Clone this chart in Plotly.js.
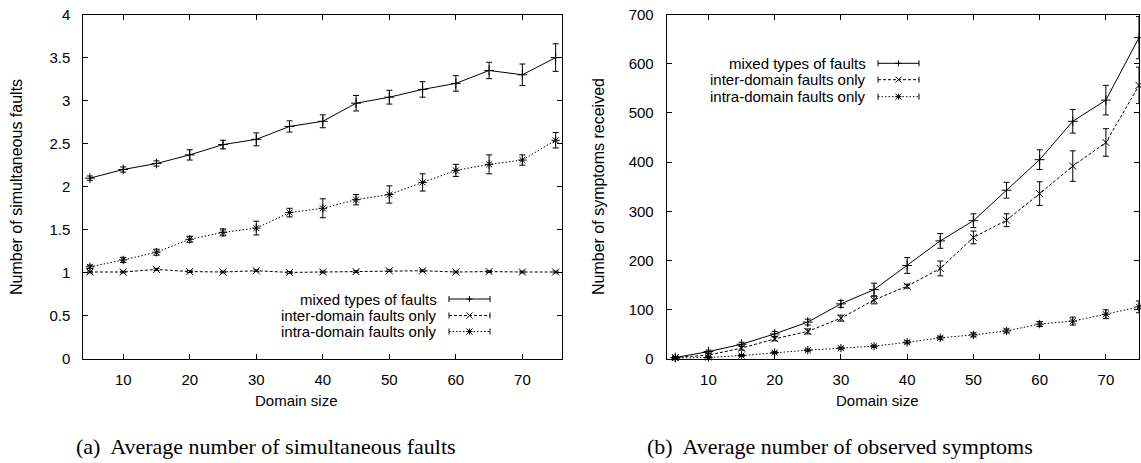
<!DOCTYPE html>
<html>
<head>
<meta charset="utf-8">
<script src="https://cdn.plot.ly/plotly-3.0.1.min.js"></script>
<style>html,body{margin:0;padding:0;background:#fff;}#chart{width:1141px;height:463px;}</style>
</head>
<body>
<div id="chart"></div>
<script>
// ---------- data ----------
const domainSize = [5,10,15,20,25,30,35,40,45,50,55,60,65,70,75];
const seriesNames = ["mixed types of faults","inter-domain faults only","intra-domain faults only"];

// (a) Average number of simultaneous faults
const faultsMixed    = [2.10,2.20,2.27,2.37,2.49,2.55,2.70,2.76,2.97,3.04,3.13,3.20,3.35,3.30,3.50];
const faultsMixedErr = [0.025,0.03,0.03,0.06,0.05,0.075,0.065,0.075,0.09,0.08,0.09,0.09,0.095,0.125,0.16];
const faultsInter    = [1.01,1.01,1.04,1.015,1.01,1.025,1.005,1.01,1.015,1.025,1.025,1.01,1.015,1.01,1.01];
const faultsInterErr = [0.01,0.01,0.012,0.01,0.01,0.01,0.01,0.01,0.01,0.01,0.01,0.01,0.01,0.01,0.01];
const faultsIntra    = [1.07,1.15,1.24,1.39,1.47,1.52,1.70,1.75,1.85,1.91,2.05,2.19,2.26,2.31,2.54];
const faultsIntraErr = [0.02,0.03,0.035,0.035,0.04,0.08,0.05,0.11,0.06,0.10,0.10,0.07,0.11,0.06,0.09];

// (b) Average number of observed symptoms
const sympMixed    = [3,15,30,51,75,112,141,190,240,281,343,405,483,526,653];
const sympMixedErr = [2,3,4,5,6,7,13,16,15,14,16,20,24,30,43];
const sympInter    = [3,8,22,41,56,83,120,148,184,247,282,336,392,440,556];
const sympInterErr = [2,3,4,4,5,6,8,4,15,13,13,24,31,28,37];
const sympIntra    = [2,3,7,13,18,22,26,34,43,49,57,71,77,91,106];
const sympIntraErr = [1,1,2,2,2,2,2,3,3,4,4,5,8,9,12];

const xTicksA = [10,20,30,40,50,60,70];
const yTicksA = [0,0.5,1,1.5,2,2.5,3,3.5,4];
const yTicksB = [0,100,200,300,400,500,600,700];

// ---------- layout helpers ----------
const W = 1141, H = 463;
const px = v => v / W;
const py = v => 1 - v / H;
const FONT = "Liberation Sans, Arial, Helvetica, sans-serif";
const dashes = ["solid","3px,2px","1.5px,2px"];
const symbols = ["cross-thin-open","x-thin-open","asterisk-open"];

function series(x, y, err, i, xa, ya) {
  return {
    type: "scatter", mode: "lines+markers", x: x, y: y,
    xaxis: xa, yaxis: ya, name: seriesNames[i], showlegend: false,
    line: {color: "#000", width: 1, dash: dashes[i]},
    marker: {symbol: symbols[i], size: 7, color: "#000", line: {color: "#000", width: 1}},
    error_y: {type: "data", array: err, visible: true, color: "#000", thickness: 1, width: 3},
    cliponaxis: false
  };
}

const traces = [
  series(domainSize, faultsMixed, faultsMixedErr, 0, "x", "y"),
  series(domainSize, faultsInter, faultsInterErr, 1, "x", "y"),
  series(domainSize, faultsIntra, faultsIntraErr, 2, "x", "y"),
  series(domainSize, sympMixed, sympMixedErr, 0, "x2", "y2"),
  series(domainSize, sympInter, sympInterErr, 1, "x2", "y2"),
  series(domainSize, sympIntra, sympIntraErr, 2, "x2", "y2")
];

function axisBase() {
  return {
    showgrid: false, zeroline: false, showline: true, linecolor: "#000", linewidth: 1,
    mirror: "ticks", ticks: "inside", ticklen: 5, tickcolor: "#000", tickwidth: 1,
    tickfont: {family: FONT, size: 15, color: "#000"}
  };
}

const yDom = [py(359), py(14.5)];
const layout = {
  width: W, height: H, margin: {l: 0, r: 0, t: 0, b: 0},
  paper_bgcolor: "#fff", plot_bgcolor: "#fff", showlegend: false,
  xaxis: Object.assign(axisBase(), {domain: [px(83.3), px(562.3)], range: [4, 76],
    tickvals: xTicksA, ticklabelstandoff: 7, anchor: "y"}),
  yaxis: Object.assign(axisBase(), {domain: yDom, range: [0, 4],
    tickvals: yTicksA, ticktext: yTicksA.map(String), ticklabelstandoff: 9, anchor: "x"}),
  xaxis2: Object.assign(axisBase(), {domain: [px(666.7), px(1139)], range: [3.7, 75],
    tickvals: xTicksA, ticklabelstandoff: 7, anchor: "y2"}),
  yaxis2: Object.assign(axisBase(), {domain: yDom, range: [0, 700],
    tickvals: yTicksB, ticklabelstandoff: 9, anchor: "x2"}),
  annotations: [],
  shapes: []
};

function textAnn(text, x, y, opts) {
  return Object.assign({text: text, xref: "paper", yref: "paper", x: px(x), y: py(y),
    showarrow: false, font: {family: FONT, size: 15, color: "#000"},
    xanchor: "center", yanchor: "middle"}, opts || {});
}
const TITLE16 = {family: FONT, size: 16, color: "#000"};

// axis titles
layout.annotations.push(textAnn("Domain size", 296, 400));
layout.annotations.push(textAnn("Domain size", 877, 400));
layout.annotations.push(textAnn("Number of simultaneous faults", 16, 187, {textangle: -90, font: TITLE16}));
layout.annotations.push(textAnn("Number of symptoms received", 598, 187, {textangle: -90, font: TITLE16}));
// captions
const CAP = {family: "Liberation Serif, Times New Roman, serif", size: 22, color: "#000"};
layout.annotations.push(textAnn("(a)&nbsp; Average number of simultaneous faults", 266, 446, {font: CAP}));
layout.annotations.push(textAnn("(b)&nbsp; Average number of observed symptoms", 840, 446, {font: CAP}));

// gnuplot-style keys: text then sample line with error-bar ends and marker
function seg(x0, y0, x1, y1, dash) {
  return {type: "line", xref: "paper", yref: "paper", x0: px(x0), y0: py(y0), x1: px(x1), y1: py(y1),
    line: {color: "#000", width: 1, dash: dash || "solid"}};
}
function key(textRight, lineX0, lineX1, rowsY) {
  const mx = (lineX0 + lineX1) / 2, s = 3;
  rowsY.forEach((y, i) => {
    layout.annotations.push(textAnn(seriesNames[i], textRight, y, {xanchor: "right"}));
    layout.shapes.push(seg(lineX0, y, lineX1, y, dashes[i]));
    layout.shapes.push(seg(lineX0, y - 3, lineX0, y + 3));
    layout.shapes.push(seg(lineX1, y - 3, lineX1, y + 3));
    if (i === 0 || i === 2) {
      layout.shapes.push(seg(mx - s, y, mx + s, y));
      layout.shapes.push(seg(mx, y - s, mx, y + s));
    }
    if (i === 1 || i === 2) {
      layout.shapes.push(seg(mx - s, y - s, mx + s, y + s));
      layout.shapes.push(seg(mx - s, y + s, mx + s, y - s));
    }
  });
}
key(439, 449, 490, [299, 315.5, 331.5]);
key(868, 878, 919, [63.3, 79.7, 96.7]);

Plotly.newPlot("chart", traces, layout, {displayModeBar: false, staticPlot: true});
</script>
</body>
</html>
